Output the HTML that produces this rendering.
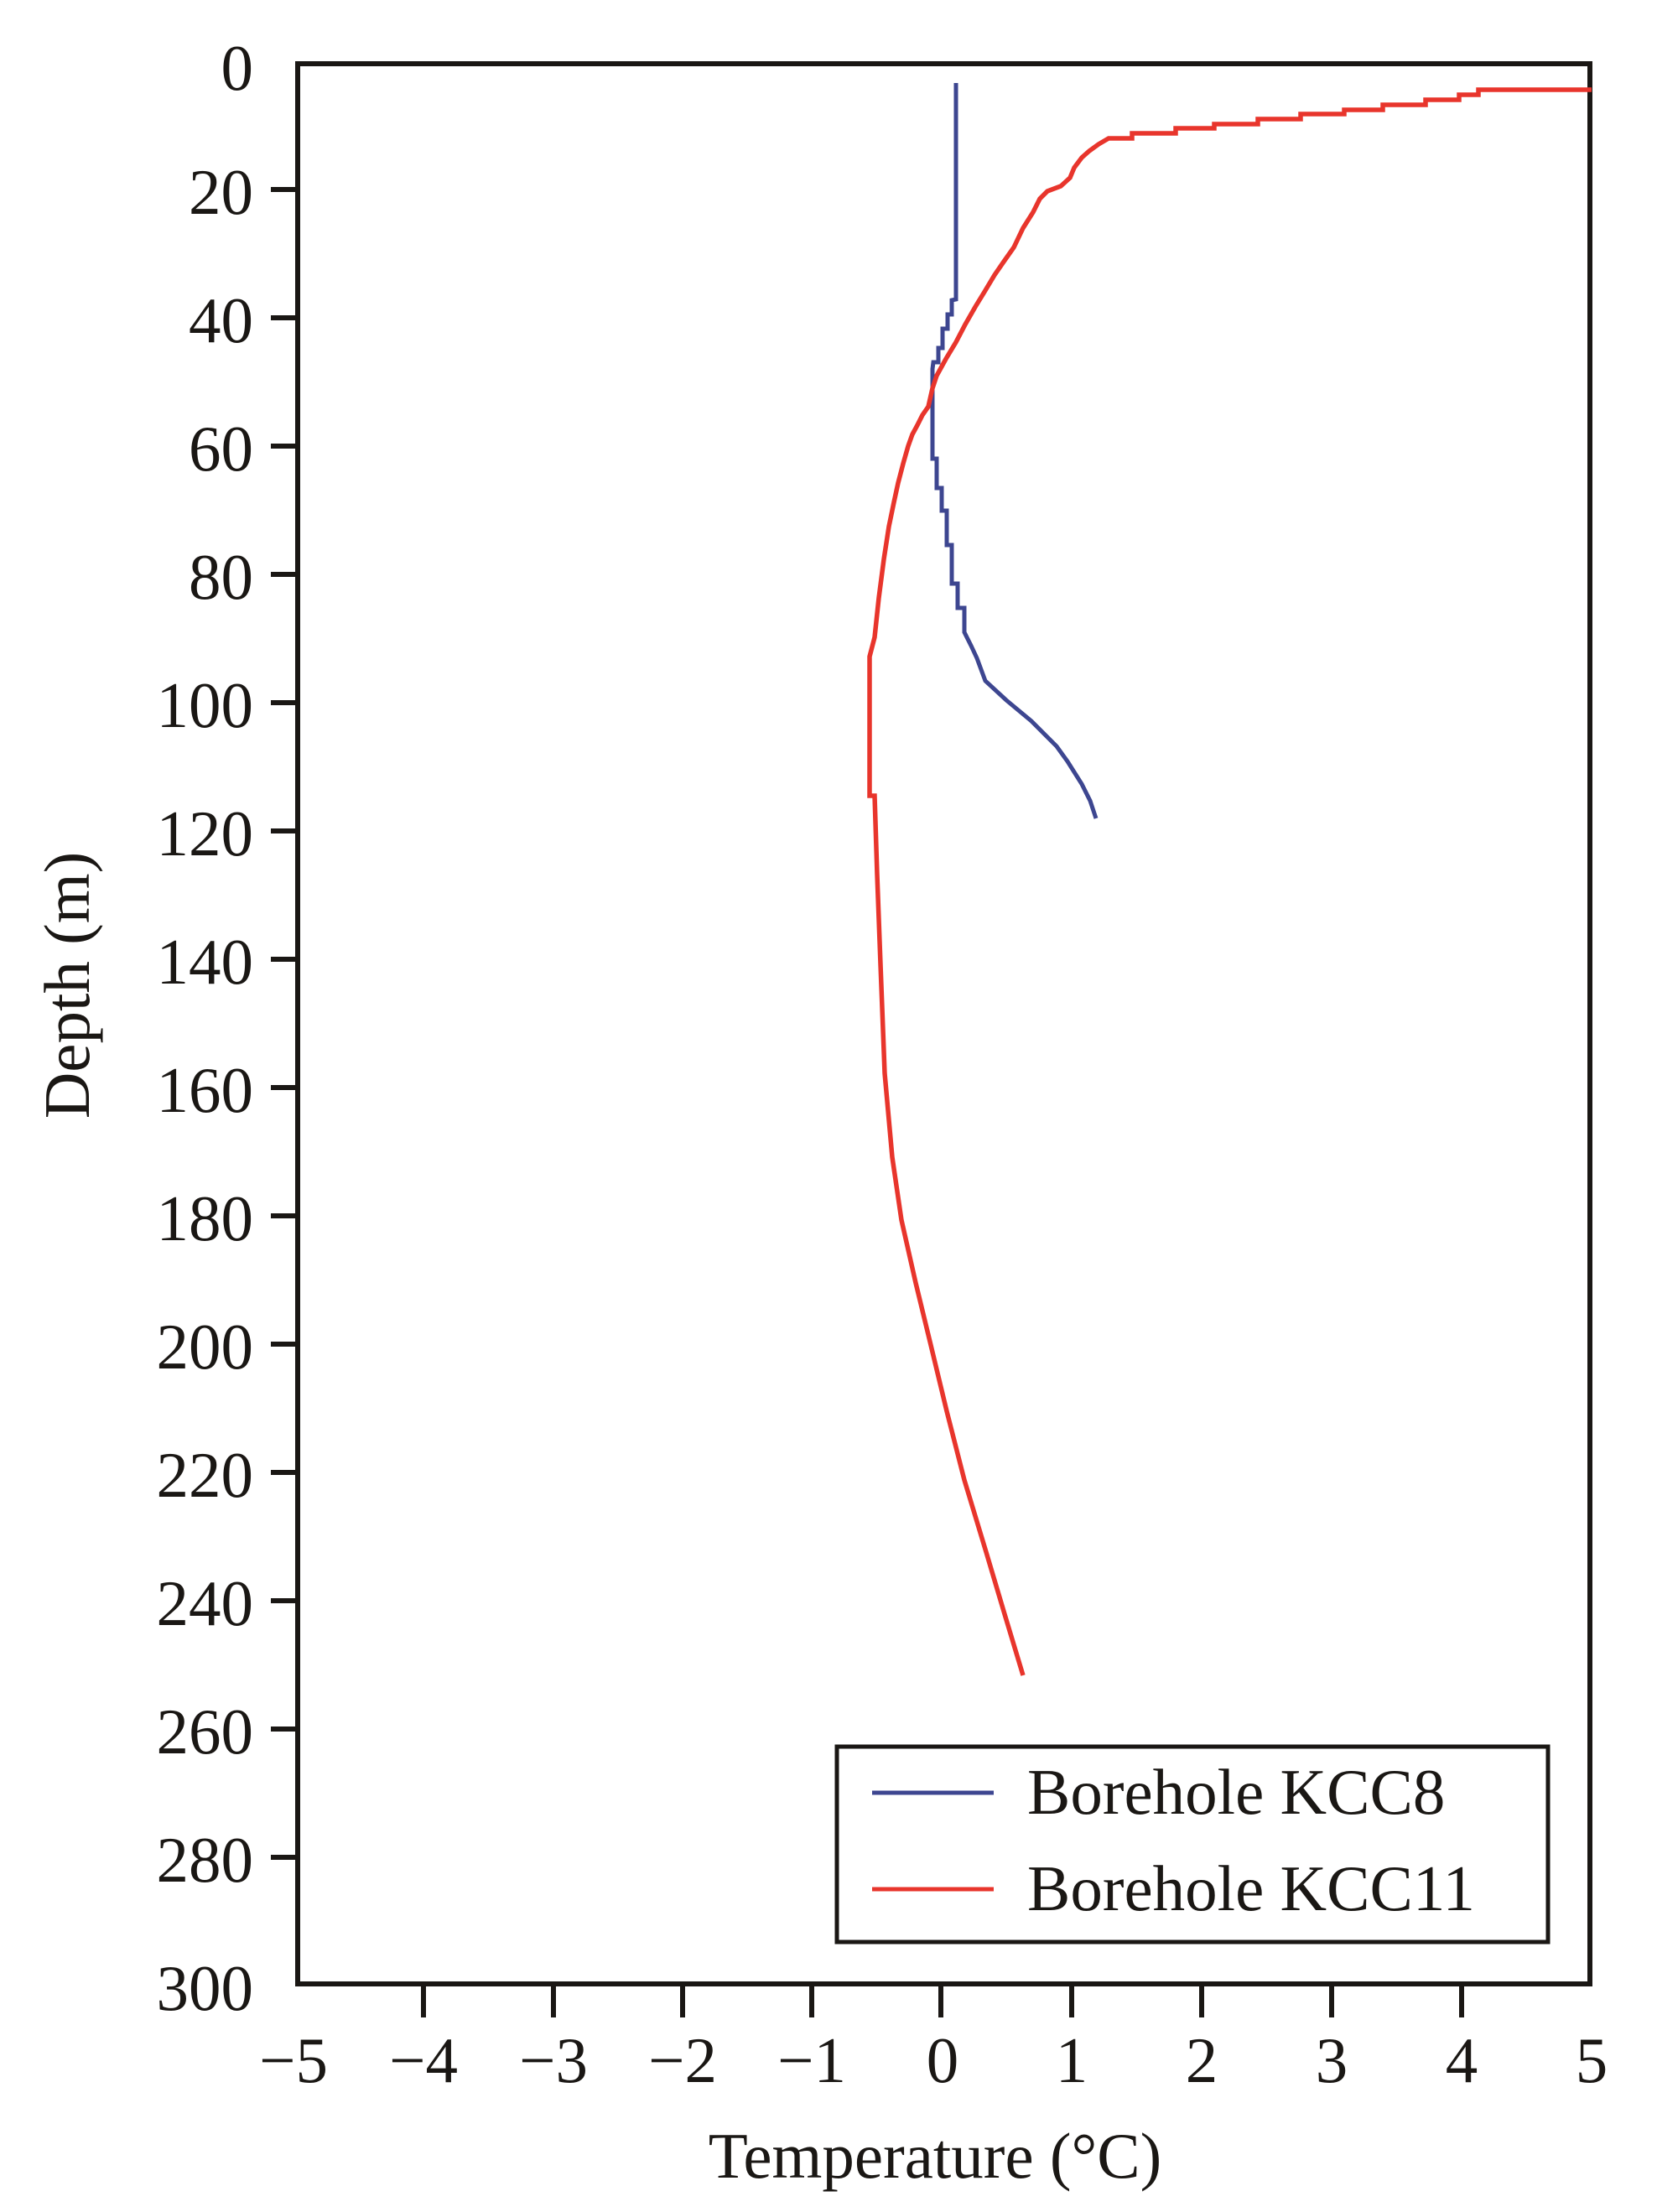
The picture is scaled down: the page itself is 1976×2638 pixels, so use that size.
<!DOCTYPE html>
<html><head><meta charset="utf-8"><style>
html,body{margin:0;padding:0;background:#fff;}
svg{display:block;}
text{font-family:"Liberation Serif","Times New Roman",serif;fill:#1a1714;}
</style></head><body>
<svg width="1976" height="2638" viewBox="0 0 1976 2638" xmlns="http://www.w3.org/2000/svg">
<rect width="1976" height="2638" fill="#fff"/>
<rect x="355" y="76" width="1541" height="2290" fill="none" stroke="#1a1714" stroke-width="6"/>
<g stroke="#1a1714" stroke-width="6">
<line x1="323" y1="226" x2="355" y2="226"/>
<line x1="323" y1="379" x2="355" y2="379"/>
<line x1="323" y1="532" x2="355" y2="532"/>
<line x1="323" y1="685" x2="355" y2="685"/>
<line x1="323" y1="838" x2="355" y2="838"/>
<line x1="323" y1="991" x2="355" y2="991"/>
<line x1="323" y1="1144" x2="355" y2="1144"/>
<line x1="323" y1="1297" x2="355" y2="1297"/>
<line x1="323" y1="1450" x2="355" y2="1450"/>
<line x1="323" y1="1603" x2="355" y2="1603"/>
<line x1="323" y1="1756" x2="355" y2="1756"/>
<line x1="323" y1="1909" x2="355" y2="1909"/>
<line x1="323" y1="2062" x2="355" y2="2062"/>
<line x1="323" y1="2215" x2="355" y2="2215"/>
<line x1="505" y1="2366" x2="505" y2="2406"/>
<line x1="660" y1="2366" x2="660" y2="2406"/>
<line x1="814" y1="2366" x2="814" y2="2406"/>
<line x1="968" y1="2366" x2="968" y2="2406"/>
<line x1="1122" y1="2366" x2="1122" y2="2406"/>
<line x1="1278" y1="2366" x2="1278" y2="2406"/>
<line x1="1433" y1="2366" x2="1433" y2="2406"/>
<line x1="1588" y1="2366" x2="1588" y2="2406"/>
<line x1="1743" y1="2366" x2="1743" y2="2406"/>
</g>
<g font-size="77" text-anchor="end">
<text x="302" y="107">0</text>
<text x="302" y="255">20</text>
<text x="302" y="408">40</text>
<text x="302" y="561">60</text>
<text x="302" y="714">80</text>
<text x="302" y="867">100</text>
<text x="302" y="1020">120</text>
<text x="302" y="1173">140</text>
<text x="302" y="1326">160</text>
<text x="302" y="1479">180</text>
<text x="302" y="1632">200</text>
<text x="302" y="1785">220</text>
<text x="302" y="1938">240</text>
<text x="302" y="2091">260</text>
<text x="302" y="2244">280</text>
<text x="302" y="2397">300</text>
</g>
<g font-size="77" text-anchor="middle">
<text x="350" y="2483">−5</text>
<text x="505" y="2483">−4</text>
<text x="660" y="2483">−3</text>
<text x="814" y="2483">−2</text>
<text x="968" y="2483">−1</text>
<text x="1124" y="2483">0</text>
<text x="1278" y="2483">1</text>
<text x="1433" y="2483">2</text>
<text x="1588" y="2483">3</text>
<text x="1743" y="2483">4</text>
<text x="1898" y="2483">5</text>
</g>
<text x="1115" y="2597" font-size="77" text-anchor="middle">Temperature (°C)</text>
<text transform="translate(106,1175) rotate(-90)" font-size="77" text-anchor="middle">Depth (m)</text>
<polyline fill="none" stroke="#3d4690" stroke-width="5" points="1140,99 1140,357 1135,358 1135,375 1130,375 1130,392 1124,392 1124,415 1119,415 1119,432 1113,432 1112,440 1112,547 1117,547 1117,582 1123,582 1123,609 1129,609 1129,650 1135,650 1135,696 1142,696 1142,725 1150,725 1150,754 1158,770 1165,785 1175,812 1200,835 1230,860 1260,890 1273,908 1290,935 1300,955 1307,976"/>
<polyline fill="none" stroke="#e8352c" stroke-width="5.5" points="1898,107 1763,107 1763,113 1740,113 1740,119 1700,119 1700,125 1649,125 1649,131 1603,131 1603,136 1551,136 1551,142 1500,142 1500,148 1448,148 1448,153 1402,153 1402,159 1350,159 1350,165 1322,165 1310,172 1299,180 1290,188 1281,200 1276,212 1265,222 1249,228 1240,237 1232,253 1220,272 1209,295 1197,312 1186,328 1174,348 1163,366 1151,387 1140,408 1128,428 1117,448 1112,463 1107,485 1100,495 1094,507 1088,518 1083,532 1077,553 1071,576 1066,599 1060,628 1054,667 1048,713 1043,760 1037,783 1037,949 1043,949 1046,1043 1050,1150 1055,1280 1064,1380 1075,1455 1092,1530 1109,1600 1129,1683 1150,1765 1176,1851 1198,1925 1220,1998"/>
<rect x="998" y="2083" width="848" height="233" fill="#fff" stroke="#1a1714" stroke-width="5"/>
<line x1="1040" y1="2138" x2="1185" y2="2138" stroke="#3d4690" stroke-width="5"/>
<line x1="1040" y1="2253" x2="1185" y2="2253" stroke="#e8352c" stroke-width="5"/>
<text x="1225" y="2163" font-size="77">Borehole KCC8</text>
<text x="1225" y="2278" font-size="77">Borehole KCC11</text>
</svg>
</body></html>
